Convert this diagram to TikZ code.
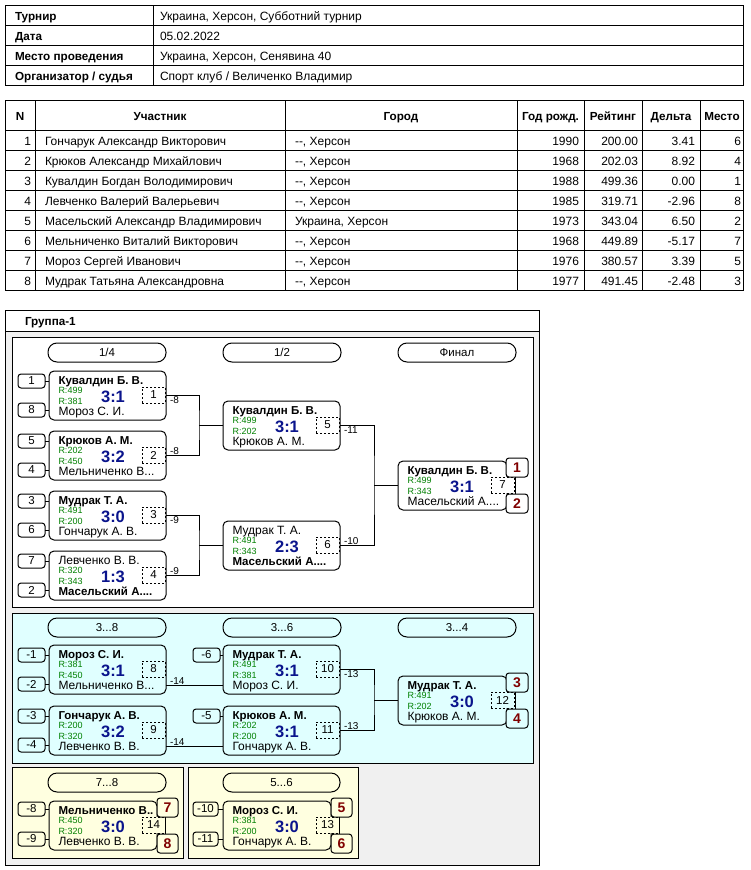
\documentclass[tikz,border=0pt]{standalone}
\usepackage{fontspec}
\setmainfont{Liberation Sans}
\usetikzlibrary{calc}
\definecolor{scorec}{RGB}{10,20,140}
\definecolor{rc}{RGB}{0,128,0}
\definecolor{pc}{RGB}{128,0,0}
\definecolor{cyanbg}{RGB}{224,255,255}
\definecolor{yelbg}{RGB}{255,255,224}
\definecolor{graybg}{RGB}{240,240,240}
\newcommand{\fnb}{\fontsize{11.5}{11.5}\selectfont\bfseries}
\newcommand{\fnr}{\fontsize{12}{12}\selectfont}
\tikzset{
 every node/.style={inner sep=0pt, outer sep=0pt},
 pf/.style={fill=white},
 mbox/.style={draw, rounded corners=5pt, minimum height=49pt},
 numbox/.style={draw, pf, dashed, dash pattern=on 2pt off 2pt, minimum width=23pt, minimum height=16pt, font=\fontsize{11.5}{11.5}\selectfont},
 seedbox/.style={draw, rounded corners=3pt, minimum width=27pt, minimum height=14pt, font=\fontsize{11.5}{11.5}\selectfont},
 placebox/.style={draw, pf, rounded corners=3pt, minimum width=22pt, minimum height=19pt, font=\fontsize{14}{14}\selectfont\bfseries, text=pc},
 pill/.style={draw, rounded corners=9pt, minimum width=118pt, minimum height=19pt, font=\fontsize{11.5}{11.5}\selectfont},
 lbl/.style={font=\fontsize{10}{10}\selectfont, inner sep=1pt},
 rt/.style={font=\fontsize{9}{9}\selectfont, text=rc, anchor=base west},
 sc/.style={font=\fontsize{16.5}{16.5}\selectfont\bfseries, text=scorec, anchor=base},
 tb/.style={font=\fontsize{12}{12}\selectfont},
 tbb/.style={font=\fontsize{11.7}{11.7}\selectfont\bfseries},
}
% match: name, "L,T", width, top, R1, R2, bottom, score, number
\newcommand{\mt}[9]{%
 \node[mbox, minimum width=#3pt, anchor=north west] (#1) at (#2) {};
 \node[anchor=base west] (#1a) at ($(#2)+(9.5,13.5)$) {#4};
 \node[rt] (#1r) at ($(#2)+(9.5,22.5)$) {R:#5};
 \node[rt] (#1s) at ($(#2)+(9.5,33.5)$) {R:#6};
 \node[anchor=base west] (#1b) at ($(#2)+(9.5,44)$) {#7};
 \node[sc] (#1c) at ($(#2)+(64,31.5)$) {#8};
 \node[numbox, anchor=north west] (#1n) at ($(#2)+(93,16)$) {#9};
}
% table row: baseline y, n, name, city, year, rating, delta, place
\newcommand{\trow}[8]{%
 \node[tb, anchor=base east] (rn#2) at (31,#1) {#2};
 \node[tb, anchor=base west] (rm#2) at (45,#1) {#3};
 \node[tb, anchor=base west] (rc#2) at (295,#1) {#4};
 \node[tb, anchor=base east] (ry#2) at (579,#1) {#5};
 \node[tb, anchor=base east] (rr#2) at (638,#1) {#6};
 \node[tb, anchor=base east] (rd#2) at (695,#1) {#7};
 \node[tb, anchor=base east] (rp#2) at (741,#1) {#8};
}
\begin{document}
\begin{tikzpicture}[x=1pt, y=-1pt, line width=1pt]
\useasboundingbox (0,0) rectangle (750,870);
\fill[white] (0,0) rectangle (750,870);

% ---- top info table
\draw (5,5) rectangle (743,85);
\foreach \yy in {25,45,65} \draw (5,\yy) -- (743,\yy);
\draw (153,5) -- (153,85);
\node[tbb, anchor=base west] (h1) at (15,20) {Турнир};
\node[tbb, anchor=base west] (h2) at (15,40) {Дата};
\node[tbb, anchor=base west] (h3) at (15,60) {Место проведения};
\node[tbb, anchor=base west] (h4) at (15,80) {Организатор / судья};
\node[tb, anchor=base west] (v1) at (160,20) {Украина, Херсон, Субботний турнир};
\node[tb, anchor=base west] (v2) at (160,40) {05.02.2022};
\node[tb, anchor=base west] (v3) at (160,60) {Украина, Херсон, Сенявина 40};
\node[tb, anchor=base west] (v4) at (160,80) {Спорт клуб / Величенко Владимир};

% ---- participants table
\draw (5,100) rectangle (743,290);
\draw (5,130) -- (743,130);
\foreach \yy in {150,170,190,210,230,250,270} \draw (5,\yy) -- (743,\yy);
\foreach \xx in {35,285,517,584,642,700} \draw (\xx,100) -- (\xx,290);
\node[tbb, anchor=base] (c1) at (20,120) {N};
\node[tbb, anchor=base] (c2) at (160,120) {Участник};
\node[tbb, anchor=base] (c3) at (401,120) {Город};
\node[tbb, anchor=base] (c4) at (550.5,120) {Год рожд.};
\node[tbb, anchor=base] (c5) at (613,120) {Рейтинг};
\node[tbb, anchor=base] (c6) at (671,120) {Дельта};
\node[tbb, anchor=base] (c7) at (722,120) {Место};
\trow{145}{1}{Гончарук Александр Викторович}{{-}{-}, Херсон}{1990}{200.00}{3.41}{6}
\trow{165}{2}{Крюков Александр Михайлович}{{-}{-}, Херсон}{1968}{202.03}{8.92}{4}
\trow{185}{3}{Кувалдин Богдан Володимирович}{{-}{-}, Херсон}{1988}{499.36}{0.00}{1}
\trow{205}{4}{Левченко Валерий Валерьевич}{{-}{-}, Херсон}{1985}{319.71}{-2.96}{8}
\trow{225}{5}{Масельский Александр Владимирович}{Украина, Херсон}{1973}{343.04}{6.50}{2}
\trow{245}{6}{Мельниченко Виталий Викторович}{{-}{-}, Херсон}{1968}{449.89}{-5.17}{7}
\trow{265}{7}{Мороз Сергей Иванович}{{-}{-}, Херсон}{1976}{380.57}{3.39}{5}
\trow{285}{8}{Мудрак Татьяна Александровна}{{-}{-}, Херсон}{1977}{491.45}{-2.48}{3}

% ---- group frame
\fill[graybg] (5,331) rectangle (539,865);
\draw (5,310) rectangle (539,865);
\draw (5,331) -- (539,331);
\node[tbb, anchor=base west] (grp) at (25,325.5) {Группа-1};

% ---- main bracket panel
\draw[fill=white] (12,337) rectangle (533,607);
\tikzset{pf/.style={fill=white}}
\node[pill, anchor=north west] (q1) at (48,343) {1/4};
\node[pill, anchor=north west] (q2) at (223,343) {1/2};
\node[pill, anchor=north west] (q3) at (398,343) {Финал};

\mt{m1}{49,371}{117}{\fnb Кувалдин Б. В.}{499}{381}{\fnr Мороз С. И.}{3:1}{1}
\mt{m2}{49,431}{117}{\fnb Крюков А. М.}{202}{450}{\fnr Мельниченко В...}{3:2}{2}
\mt{m3}{49,491}{117}{\fnb Мудрак Т. А.}{491}{200}{\fnr Гончарук А. В.}{3:0}{3}
\mt{m4}{49,551}{117}{\fnr Левченко В. В.}{320}{343}{\fnb Масельский А....}{1:3}{4}
\mt{m5}{223,401}{117}{\fnb Кувалдин Б. В.}{499}{202}{\fnr Крюков А. М.}{3:1}{5}
\mt{m6}{223,521}{117}{\fnr Мудрак Т. А.}{491}{343}{\fnb Масельский А....}{2:3}{6}
\mt{m7}{398,461}{109}{\fnb Кувалдин Б. В.}{499}{343}{\fnr Масельский А....}{3:1}{7}

\node[seedbox, anchor=north west] (s1) at (18,374) {1};
\node[seedbox, anchor=north west] (s8) at (18,403) {8};
\node[seedbox, anchor=north west] (s5) at (18,434) {5};
\node[seedbox, anchor=north west] (s4) at (18,463) {4};
\node[seedbox, anchor=north west] (s3) at (18,494) {3};
\node[seedbox, anchor=north west] (s6) at (18,523) {6};
\node[seedbox, anchor=north west] (s7) at (18,554) {7};
\node[seedbox, anchor=north west] (s2) at (18,583) {2};
\foreach \s/\m in {s1/m1,s8/m1,s5/m2,s4/m2,s3/m3,s6/m3,s7/m4,s2/m4}
  \draw (\s.east) -- (\s.east -| \m.west);

\coordinate (j1) at (199,425);
\coordinate (j2) at (199,545);
\coordinate (j3) at (374,485);
\draw (m1.east) -| (j1) |- (m2.east);
\draw (j1) -- (j1 -| m5.west);
\draw (m3.east) -| (j2) |- (m4.east);
\draw (j2) -- (j2 -| m6.west);
\draw (m5.east) -| (j3) |- (m6.east);
\draw (j3) -- (j3 -| m7.west);
\node[lbl, anchor=north west] (l1) at ([xshift=3pt]m1.east) {-8};
\node[lbl, anchor=south west] (l2) at ([xshift=3pt]m2.east) {-8};
\node[lbl, anchor=north west] (l3) at ([xshift=3pt]m3.east) {-9};
\node[lbl, anchor=south west] (l4) at ([xshift=3pt]m4.east) {-9};
\node[lbl, anchor=north west] (l5) at ([xshift=3pt]m5.east) {-11};
\node[lbl, anchor=south west] (l6) at ([xshift=3pt]m6.east) {-10};

\node[placebox, anchor=north west] (p1) at (506,458) {1};
\node[placebox, anchor=north west] (p2) at (506,494) {2};
\draw ([xshift=-2pt]p1.south) -- ([xshift=-2pt]p2.north);

% ---- 3..8 panel
\draw[fill=cyanbg] (12,613) rectangle (533,763);
\tikzset{pf/.style={fill=cyanbg}}
\node[pill, anchor=north west] (q4) at (48,618) {3...8};
\node[pill, anchor=north west] (q5) at (223,618) {3...6};
\node[pill, anchor=north west] (q6) at (398,618) {3...4};

\mt{m8}{49,645}{117}{\fnb Мороз С. И.}{381}{450}{\fnr Мельниченко В...}{3:1}{8}
\mt{m9}{49,706}{117}{\fnb Гончарук А. В.}{200}{320}{\fnr Левченко В. В.}{3:2}{9}
\mt{m10}{223,645}{117}{\fnb Мудрак Т. А.}{491}{381}{\fnr Мороз С. И.}{3:1}{10}
\mt{m11}{223,706}{117}{\fnb Крюков А. М.}{202}{200}{\fnr Гончарук А. В.}{3:1}{11}
\mt{m12}{398,676}{109}{\fnb Мудрак Т. А.}{491}{202}{\fnr Крюков А. М.}{3:0}{12}

\node[seedbox, anchor=north west] (sm1) at (18,648) {-1};
\node[seedbox, anchor=north west] (sm2) at (18,677) {-2};
\node[seedbox, anchor=north west] (sm3) at (18,709) {-3};
\node[seedbox, anchor=north west] (sm4) at (18,738) {-4};
\node[seedbox, anchor=north west] (sm6) at (193,648) {-6};
\node[seedbox, anchor=north west] (sm5) at (193,709) {-5};
\foreach \s/\m in {sm1/m8,sm2/m8,sm3/m9,sm4/m9,sm6/m10,sm5/m11}
  \draw (\s.east) -- (\s.east -| \m.west);

\coordinate (k8) at ([yshift=-15.5pt]m8.east);
\coordinate (k9) at ([yshift=-15.5pt]m9.east);
\draw (k8) -- (k8 -| m10.west);
\draw (k9) -- (k9 -| m11.west);
\node[lbl, anchor=south west] (l8) at ([xshift=3pt]k8) {-14};
\node[lbl, anchor=south west] (l9) at ([xshift=3pt]k9) {-14};
\coordinate (j4) at (374,700);
\draw (m10.east) -| (j4) |- (m11.east);
\draw (j4) -- (j4 -| m12.west);
\node[lbl, anchor=north west] (l10) at ([xshift=3pt]m10.east) {-13};
\node[lbl, anchor=south west] (l11) at ([xshift=3pt]m11.east) {-13};

\node[placebox, anchor=north west] (p3) at (506,673) {3};
\node[placebox, anchor=north west] (p4) at (506,709) {4};
\draw ([xshift=-2pt]p3.south) -- ([xshift=-2pt]p4.north);

% ---- 7..8 and 5..6 panels
\draw[fill=yelbg] (12,767) rectangle (183,858);
\draw[fill=yelbg] (188,767) rectangle (358,858);
\tikzset{pf/.style={fill=yelbg}}
\node[pill, anchor=north west] (q7) at (48,773) {7...8};
\node[pill, anchor=north west, minimum width=117pt] (q8) at (223,773) {5...6};

\mt{m14}{49,801}{108}{\fnb Мельниченко В..}{450}{320}{\fnr Левченко В. В.}{3:0}{14}
\mt{m13}{223,801}{108}{\fnb Мороз С. И.}{381}{200}{\fnr Гончарук А. В.}{3:0}{13}

\node[seedbox, anchor=north west] (sm8) at (18,802) {-8};
\node[seedbox, anchor=north west] (sm9) at (18,832) {-9};
\node[seedbox, anchor=north west, minimum width=25pt] (sm10) at (193,802) {-10};
\node[seedbox, anchor=north west, minimum width=25pt] (sm11) at (193,832) {-11};
\foreach \s/\m in {sm8/m14,sm9/m14,sm10/m13,sm11/m13}
  \draw (\s.east) -- (\s.east -| \m.west);

\node[placebox, anchor=north west, minimum width=21pt] (p7) at (157,798) {7};
\node[placebox, anchor=north west, minimum width=21pt] (p8) at (157,834) {8};
\draw ([xshift=-2pt]p7.south) -- ([xshift=-2pt]p8.north);
\node[placebox, anchor=north west, minimum width=21pt] (p5) at (331,798) {5};
\node[placebox, anchor=north west, minimum width=21pt] (p6) at (331,834) {6};
\draw ([xshift=-2pt]p5.south) -- ([xshift=-2pt]p6.north);
\end{tikzpicture}
\end{document}
